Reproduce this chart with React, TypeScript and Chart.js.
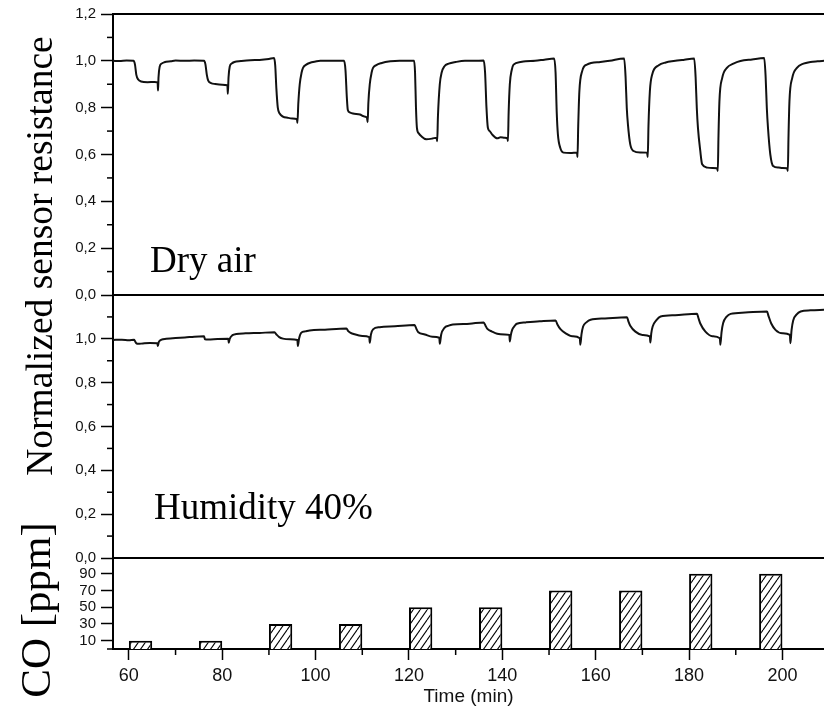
import { useEffect, useRef } from 'react';
import { Chart, registerables } from 'chart.js';

Chart.register(...registerables);

// ---- axis ranges and ticks ----
const timeRange = [56.6, 208.9];
const timeMajorTicks = [60, 80, 100, 120, 140, 160, 180, 200];
const timeMinorTicks = [70, 90, 110, 130, 150, 170, 190];
const resistanceRange = [0, 1.2];
const dryMajorTicks = [0, 0.2, 0.4, 0.6, 0.8, 1.0, 1.2];
const humidMajorTicks = [0, 0.2, 0.4, 0.6, 0.8, 1.0];
const resistanceMinorTicks = [0.1, 0.3, 0.5, 0.7, 0.9, 1.1];
const coRange = [0, 109];
const coMajorTicks = [10, 30, 50, 70, 90];
const coMinorTicks = [0];

// ---- CO pulses ----
const coPulseStart = [60, 75, 90, 105, 120, 135, 150, 165, 180, 195];
const coPulseEnd = [65, 80, 95, 110, 125, 140, 155, 170, 185, 200];
const coPpm = [10, 10, 30, 30, 50, 50, 70, 70, 90, 90];

// ---- sensor response, dry air: [time (min), normalized resistance] ----
const dryAir: [number, number][] = [
  [56.6, 1.0], [58, 0.999], [59.5, 1.001], [61.0, 1.0], [61.3, 0.985], [61.6, 0.94], [62.0, 0.92], [62.6, 0.912], [64, 0.909], [65.5, 0.91], [66.15, 0.908], [66.25, 0.873], [66.35, 0.93], [66.6, 0.975], [67.0, 0.988], [67.6, 0.994], [69, 0.998], [70, 1.001], [72, 1.0], [74, 1.001], [76.1, 1.0],
  [76.4, 0.985], [76.7, 0.94], [77.0, 0.915], [77.6, 0.905], [78.5, 0.901], [80, 0.898], [81.1, 0.896], [81.2, 0.859], [81.35, 0.93], [81.6, 0.975], [82, 0.988], [82.6, 0.995], [84, 0.999], [86, 1.003], [88, 1.004], [90, 1.008], [91.1, 1.012],
  [91.35, 0.98], [91.6, 0.88], [91.9, 0.8], [92.3, 0.775], [93, 0.762], [94, 0.757], [95, 0.754], [96.0, 0.751], [96.1, 0.735], [96.3, 0.82], [96.6, 0.9], [97.0, 0.95], [97.3, 0.97], [98, 0.984], [98.7, 0.991], [100, 0.997], [101, 1.0], [104, 1.0], [106.1, 1.0],
  [106.4, 0.96], [106.7, 0.84], [106.9, 0.79], [107.3, 0.78], [108, 0.775], [109.5, 0.771], [110.3, 0.763], [111, 0.757], [111.15, 0.738], [111.3, 0.82], [111.6, 0.9], [112, 0.95], [112.3, 0.97], [113, 0.982], [114, 0.99], [116, 0.998], [118, 1.0], [121.1, 1.0],
  [121.3, 0.95], [121.5, 0.8], [121.7, 0.714], [122.1, 0.69], [122.6, 0.679], [123.7, 0.665], [125, 0.668], [125.9, 0.672], [126.05, 0.657], [126.2, 0.76], [126.6, 0.9], [127, 0.95], [127.6, 0.977], [128.5, 0.988], [130, 0.995], [132, 1.0], [134, 1.0], [136.0, 1.001],
  [136.3, 0.95], [136.6, 0.8], [136.9, 0.714], [137.3, 0.7], [137.8, 0.686], [138.9, 0.669], [139.6, 0.674], [140.5, 0.672], [141.1, 0.669], [141.2, 0.658], [141.35, 0.78], [141.6, 0.9], [142, 0.96], [142.4, 0.984], [143.9, 0.995], [145, 0.998], [147, 1.0], [149, 1.005], [151.1, 1.01],
  [151.4, 0.95], [151.65, 0.78], [151.9, 0.686], [152.4, 0.629], [153.1, 0.608], [154.6, 0.606], [156, 0.608], [156.1, 0.589], [156.25, 0.72], [156.5, 0.87], [157.1, 0.956], [158.1, 0.984], [161, 0.995], [163, 1.0], [166.1, 1.01],
  [166.4, 0.93], [166.65, 0.8], [166.9, 0.729], [167.4, 0.643], [168.1, 0.615], [169.5, 0.609], [171, 0.608], [171.15, 0.589], [171.3, 0.72], [171.6, 0.87], [172.1, 0.942], [173.5, 0.981], [175, 0.993], [176.7, 0.999], [179, 1.005], [181.1, 1.01],
  [181.4, 0.93], [181.65, 0.8], [181.9, 0.714], [182.4, 0.615], [182.8, 0.558], [183.9, 0.544], [185, 0.542], [186, 0.541], [186.15, 0.53], [186.3, 0.68], [186.5, 0.828], [187.1, 0.927], [188.1, 0.97], [189.5, 0.988], [191, 0.999], [193.5, 1.006], [196.1, 1.012],
  [196.4, 0.93], [196.65, 0.8], [196.9, 0.714], [197.4, 0.6], [198, 0.551], [199.2, 0.544], [200, 0.542], [201, 0.541], [201.15, 0.53], [201.3, 0.68], [201.5, 0.828], [202.1, 0.927], [203.1, 0.97], [204.5, 0.988], [206, 0.995], [207.5, 0.998], [209, 1.0],
];

// ---- sensor response, humidity 40%: [time (min), normalized resistance] ----
const humidity40: [number, number][] = [
  [56.6, 0.995], [58.5, 0.996], [60, 0.994], [61.1, 0.996], [61.3, 0.99], [61.6, 0.98], [62, 0.977], [63, 0.979], [64.5, 0.981], [66.1, 0.98], [66.2, 0.967], [66.4, 0.985], [67, 0.996], [68, 1.0], [70, 1.004], [72, 1.006], [74, 1.01], [76.1, 1.012],
  [76.3, 0.998], [77, 0.997], [79, 0.999], [81.3, 1.0], [81.4, 0.982], [81.6, 1.0], [82.2, 1.017], [83, 1.022], [85, 1.025], [88, 1.027], [91.2, 1.03],
  [91.6, 1.02], [92.2, 1.008], [93, 1.001], [94.5, 0.998], [96.1, 0.995], [96.2, 0.967], [96.45, 1.0], [96.9, 1.027], [97.8, 1.034], [98.7, 1.038], [102, 1.042], [106.6, 1.047],
  [107, 1.035], [107.5, 1.027], [108, 1.023], [110, 1.013], [111.5, 1.008], [111.6, 0.982], [111.85, 1.02], [112.3, 1.043], [113.7, 1.053], [117, 1.057], [121.2, 1.063],
  [121.6, 1.045], [122, 1.03], [123.4, 1.02], [125, 1.01], [126.5, 1.005], [126.6, 0.977], [126.9, 1.02], [127.6, 1.05], [128.5, 1.06], [129.4, 1.065], [133, 1.069], [136, 1.075],
  [136.4, 1.06], [136.8, 1.045], [137.8, 1.033], [138.9, 1.023], [140.5, 1.02], [141.5, 1.018], [141.6, 0.988], [141.8, 1.015], [142.1, 1.041], [142.6, 1.058], [143.1, 1.069], [145, 1.075], [148, 1.08], [151.4, 1.084],
  [151.8, 1.065], [152.4, 1.045], [153.5, 1.026], [155, 1.012], [156.6, 1.003], [156.7, 0.973], [156.95, 1.02], [157.3, 1.056], [158, 1.075], [158.9, 1.087], [162, 1.093], [166.7, 1.099],
  [167, 1.08], [167.4, 1.06], [168.5, 1.033], [170, 1.018], [171.6, 1.011], [171.7, 0.983], [171.9, 1.025], [172.2, 1.056], [173, 1.085], [173.9, 1.102], [177, 1.108], [181.7, 1.114],
  [182, 1.095], [182.4, 1.07], [183.5, 1.033], [185, 1.012], [186.6, 1.003], [186.7, 0.973], [186.95, 1.03], [187.3, 1.072], [188, 1.1], [188.9, 1.114], [192, 1.12], [196.7, 1.125],
  [197, 1.105], [197.6, 1.07], [198.5, 1.041], [200, 1.025], [201.6, 1.018], [201.7, 0.98], [201.95, 1.04], [202.3, 1.084], [203, 1.11], [203.9, 1.125], [206, 1.13], [209, 1.133],
];

const yLabelText = 'Normalized sensor resistance';
const coLabelText = 'CO [ppm]';
const dryLabelText = 'Dry air';
const humidLabelText = 'Humidity 40%';
const xTitleText = 'Time (min)';

const SANS = '"Liberation Sans", Arial, sans-serif';
const SERIF = '"Liberation Serif", "Times New Roman", serif';

function makeHatch(): CanvasPattern | string {
  const w = 7;
  const h = 10;
  const c = document.createElement('canvas');
  c.width = w;
  c.height = h;
  const g = c.getContext('2d');
  if (!g) return '#fff';
  g.fillStyle = '#fff';
  g.fillRect(0, 0, w, h);
  g.strokeStyle = '#000';
  g.lineWidth = 1.1;
  for (const k of [-1, 0, 1]) {
    g.beginPath();
    g.moveTo(k * w, h);
    g.lineTo(k * w + w, 0);
    g.stroke();
  }
  return g.createPattern(c, 'repeat') || '#fff';
}

const comma = (v: number) => v.toFixed(1).replace('.', ',');

function yAxis(range: number[], major: number[], weight: number, fmt: (v: number) => string) {
  return {
    type: 'linear' as const,
    position: 'left' as const,
    stack: 'panels',
    stackWeight: weight,
    min: range[0],
    max: range[1],
    afterBuildTicks: (s: any) => {
      s.ticks = major.map((v) => ({ value: v }));
    },
    afterFit: (s: any) => {
      s.width = 113;
    },
    border: { display: true, color: '#000', width: 2 },
    grid: { drawOnChartArea: false, drawTicks: true, offset: false, tickLength: 12, tickColor: '#000', tickWidth: 1.5 },
    ticks: {
      color: '#111',
      font: { family: SANS, size: 15 },
      padding: 5,
      autoSkip: false,
      callback: (v: any) => fmt(Number(v)),
    },
  };
}

const framePlugin = {
  id: 'frame',
  afterDraw(chart: any) {
    const { ctx, chartArea, scales } = chart;
    const line = (x1: number, y1: number, x2: number, y2: number) => {
      ctx.beginPath();
      ctx.moveTo(x1, y1);
      ctx.lineTo(x2, y2);
      ctx.stroke();
    };
    ctx.save();
    ctx.strokeStyle = '#000';
    ctx.lineWidth = 2;
    line(chartArea.left, scales.yTop.top, chartArea.right, scales.yTop.top);
    line(chartArea.left, scales.yTop.bottom, chartArea.right, scales.yTop.bottom);
    line(chartArea.left, scales.yMid.bottom, chartArea.right, scales.yMid.bottom);

    ctx.lineWidth = 1.5;
    const minorSets: [string, number[]][] = [
      ['yTop', resistanceMinorTicks],
      ['yMid', resistanceMinorTicks],
      ['yBot', coMinorTicks],
    ];
    for (const [id, vals] of minorSets) {
      const s = scales[id];
      for (const v of vals) {
        const y = s.getPixelForValue(v);
        line(s.right - 6, y, s.right, y);
      }
    }
    const sx = scales.x;
    for (const v of timeMinorTicks) {
      const x = sx.getPixelForValue(v);
      line(x, sx.top, x, sx.top + 6);
    }

    ctx.fillStyle = '#000';
    ctx.textBaseline = 'alphabetic';
    ctx.textAlign = 'left';
    ctx.font = `37px ${SERIF}`;
    ctx.fillText(dryLabelText, chartArea.left + 37, scales.yTop.getPixelForValue(0.1));
    ctx.fillText(humidLabelText, chartArea.left + 41, scales.yMid.getPixelForValue(0.18));

    ctx.textAlign = 'center';
    ctx.save();
    ctx.translate(52, 256);
    ctx.rotate(-Math.PI / 2);
    ctx.font = `37.5px ${SERIF}`;
    ctx.fillText(yLabelText, 0, 0);
    ctx.restore();

    ctx.save();
    ctx.translate(50, 610);
    ctx.rotate(-Math.PI / 2);
    ctx.font = `43px ${SERIF}`;
    ctx.fillText(coLabelText, 0, 0);
    ctx.restore();

    ctx.restore();
  },
};

export default function App() {
  const ref = useRef<HTMLCanvasElement | null>(null);

  useEffect(() => {
    if (!ref.current) return;
    const hatch = makeHatch();
    const pulseFraction = (coPulseEnd[0] - coPulseStart[0]) / (coPulseStart[1] - coPulseStart[0]);
    const chart = new Chart(ref.current, {
      type: 'line',
      data: {
        datasets: [
          {
            type: 'line',
            label: 'Dry air',
            data: dryAir.map(([x, y]) => ({ x, y })),
            xAxisID: 'x',
            yAxisID: 'yTop',
            borderColor: '#111',
            borderWidth: 2,
            pointRadius: 0,
            cubicInterpolationMode: 'monotone',
            fill: false,
          },
          {
            type: 'line',
            label: 'Humidity 40%',
            data: humidity40.map(([x, y]) => ({ x, y })),
            xAxisID: 'x',
            yAxisID: 'yMid',
            borderColor: '#111',
            borderWidth: 2,
            pointRadius: 0,
            cubicInterpolationMode: 'monotone',
            fill: false,
          },
          {
            type: 'bar',
            label: 'CO',
            data: coPulseStart.map((s, i) => ({ x: (s + coPulseEnd[i]) / 2, y: coPpm[i] })),
            xAxisID: 'x',
            yAxisID: 'yBot',
            backgroundColor: hatch as any,
            borderColor: '#000',
            borderWidth: 2,
            barPercentage: pulseFraction,
            categoryPercentage: 1,
          } as any,
        ],
      },
      options: {
        responsive: false,
        animation: false,
        devicePixelRatio: 1,
        layout: { padding: { top: 13, left: 0, right: 0, bottom: 0 } },
        plugins: { legend: { display: false }, tooltip: { enabled: false }, title: { display: false } },
        scales: {
          x: {
            type: 'linear',
            position: 'bottom',
            min: timeRange[0],
            max: timeRange[1],
            offset: false,
            afterBuildTicks: (s: any) => {
              s.ticks = timeMajorTicks.map((v) => ({ value: v }));
            },
            afterFit: (s: any) => {
              s.height = 62;
            },
            border: { display: true, color: '#000', width: 2 },
            grid: { drawOnChartArea: false, drawTicks: true, offset: false, tickLength: 11, tickColor: '#000', tickWidth: 1.5 },
            ticks: {
              color: '#111',
              font: { family: SANS, size: 18 },
              padding: 5,
              maxRotation: 0,
              autoSkip: false,
              callback: (v: any) => String(v),
            },
            title: {
              display: true,
              text: xTitleText,
              color: '#111',
              font: { family: SANS, size: 19 },
              padding: { top: 0, bottom: 3 },
            },
          },
          yBot: yAxis(coRange, coMajorTicks, 91, (v) => String(v)),
          yMid: yAxis(resistanceRange, humidMajorTicks, 263, comma),
          yTop: yAxis(resistanceRange, dryMajorTicks, 281, comma),
        } as any,
      },
      plugins: [framePlugin],
    });
    return () => chart.destroy();
  }, []);

  return (
    <div style={{ position: 'absolute', left: 0, top: 0, width: 824, height: 711, background: '#fff' }}>
      <canvas ref={ref} width={824} height={711} style={{ width: 824, height: 711, display: 'block' }} />
    </div>
  );
}
